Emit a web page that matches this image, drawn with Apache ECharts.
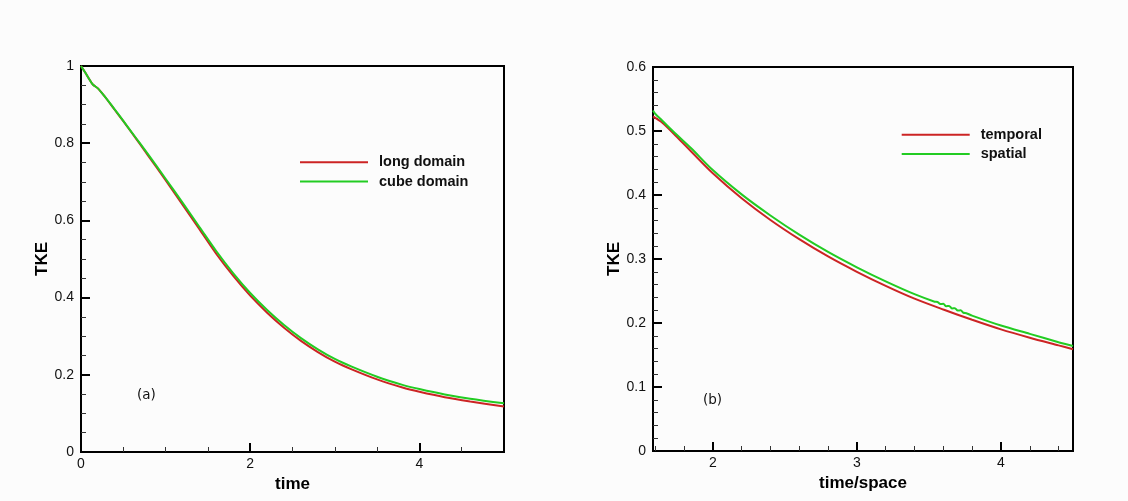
<!DOCTYPE html>
<html>
<head>
<meta charset="utf-8">
<script src="https://cdn.jsdelivr.net/npm/echarts@6/dist/echarts.min.js"></script>
<style>
html,body{margin:0;padding:0;background:#fcfcfc;}
#chart{width:1128px;height:501px;}
</style>
</head>
<body>
<div id="chart"></div>
<script>
// ---- Panel (a) data ----
const timeA = [0, 0.05, 0.1, 0.14, 0.2, 0.28, 0.4, 0.5, 0.6, 0.7, 0.8, 1.0, 1.2, 1.4, 1.6, 1.8, 2.0, 2.2, 2.4, 2.6, 2.8, 3.0, 3.2, 3.5, 3.8, 4.0, 4.3, 4.6, 5.0];
const longDomain = [1.0, 0.983, 0.965, 0.952, 0.942, 0.921, 0.886, 0.857, 0.827, 0.797, 0.766, 0.704, 0.641, 0.577, 0.513, 0.456, 0.405, 0.361, 0.322, 0.288, 0.259, 0.234, 0.214, 0.188, 0.167, 0.156, 0.142, 0.131, 0.118];
const cubeDomain = [1.0, 0.983, 0.965, 0.952, 0.942, 0.921, 0.887, 0.858, 0.828, 0.799, 0.769, 0.708, 0.646, 0.583, 0.520, 0.463, 0.412, 0.368, 0.329, 0.295, 0.266, 0.241, 0.221, 0.195, 0.174, 0.163, 0.149, 0.138, 0.126];

// ---- Panel (b) data ----
const timeSpaceTemporal = [1.585, 1.65, 1.75, 1.85, 2.0, 2.2, 2.4, 2.6, 2.8, 3.0, 3.2, 3.4, 3.6, 3.8, 4.0, 4.2, 4.4, 4.5];
const temporal = [0.523, 0.513, 0.491, 0.468, 0.434, 0.395, 0.361, 0.331, 0.304, 0.280, 0.258, 0.238, 0.221, 0.205, 0.190, 0.177, 0.165, 0.159];
const timeSpaceSpatial = [1.585, 1.6, 1.65, 1.75, 1.85, 2.0, 2.2, 2.4, 2.6, 2.8, 3.0, 3.2, 3.4, 3.54, 3.56, 3.58, 3.60, 3.62, 3.64, 3.66, 3.68, 3.70, 3.72, 3.74, 3.76, 3.8, 4.0, 4.2, 4.4, 4.5];
const spatial = [0.532, 0.527, 0.516, 0.494, 0.473, 0.439, 0.401, 0.368, 0.338, 0.311, 0.287, 0.265, 0.245, 0.2333, 0.2328, 0.2297, 0.2300, 0.2262, 0.2266, 0.2228, 0.2232, 0.2195, 0.2198, 0.2160, 0.2152, 0.2115, 0.196, 0.183, 0.170, 0.164];

// ---- Ticks ----
const xLabelsA = [0, 2, 4];
const xMinorA = [0.5, 1, 1.5, 2.5, 3, 3.5, 4.5];
const yLabelsA = [0, 0.2, 0.4, 0.6, 0.8, 1];
const yMinorA = [0.05, 0.1, 0.15, 0.25, 0.3, 0.35, 0.45, 0.5, 0.55, 0.65, 0.7, 0.75, 0.85, 0.9, 0.95];
const xLabelsB = [2, 3, 4];
const xMinorB = [1.6, 1.8, 2.2, 2.4, 2.6, 2.8, 3.2, 3.4, 3.6, 3.8, 4.2, 4.4];
const yLabelsB = [0, 0.1, 0.2, 0.3, 0.4, 0.5, 0.6];
const yMinorB = [0.02, 0.04, 0.06, 0.08, 0.12, 0.14, 0.16, 0.18, 0.22, 0.24, 0.26, 0.28, 0.32, 0.34, 0.36, 0.38, 0.42, 0.44, 0.46, 0.48, 0.52, 0.54, 0.56, 0.58];

const seriesNamesA = ['long domain', 'cube domain'];
const seriesNamesB = ['temporal', 'spatial'];

const RED = '#cc2424';
const GREEN = '#22cc22';
const FONT = '"Liberation Sans", Arial, Helvetica, sans-serif';

function pairs(xs, ys) { return xs.map((x, i) => [x, ys[i]]); }

const axisLine = { show: true, lineStyle: { color: '#000', width: 2 } };
const labelStyle = { fontFamily: FONT, fontSize: 14, color: '#111' };
const nameStyle = { fontFamily: FONT, fontSize: 17, fontWeight: 'bold', color: '#000' };

function majorX(grid, min, max, labels, name) {
  return {
    type: 'value', gridIndex: grid, min: min, max: max, position: 'bottom',
    axisLine: axisLine,
    axisTick: { show: true, inside: true, length: 9, customValues: labels, lineStyle: { color: '#000', width: 2 } },
    axisLabel: Object.assign({ margin: 5, customValues: labels }, labelStyle),
    splitLine: { show: false },
    name: name, nameLocation: 'middle', nameGap: 16, nameTextStyle: nameStyle
  };
}
function minorX(grid, min, max, ticks) {
  return {
    type: 'value', gridIndex: grid, min: min, max: max, position: 'bottom',
    axisLine: { show: false },
    axisTick: { show: true, inside: true, length: 5, customValues: ticks, lineStyle: { color: '#333', width: 1 } },
    axisLabel: { show: false },
    splitLine: { show: false }
  };
}
function majorY(grid, min, max, labels, name) {
  return {
    type: 'value', gridIndex: grid, min: min, max: max, position: 'left',
    axisLine: axisLine,
    axisTick: { show: true, inside: true, length: 9, customValues: labels, lineStyle: { color: '#000', width: 2 } },
    axisLabel: Object.assign({ margin: 7, customValues: labels }, labelStyle),
    splitLine: { show: false },
    name: name, nameLocation: 'middle', nameGap: 30, nameTextStyle: nameStyle
  };
}
function minorY(grid, min, max, ticks) {
  return {
    type: 'value', gridIndex: grid, min: min, max: max, position: 'left',
    axisLine: { show: false },
    axisTick: { show: true, inside: true, length: 5, customValues: ticks, lineStyle: { color: '#333', width: 1 } },
    axisLabel: { show: false },
    splitLine: { show: false }
  };
}

function legend(left, top, names) {
  return {
    orient: 'vertical', left: left, top: top, padding: 0,
    icon: 'rect', itemWidth: 68, itemHeight: 2, itemGap: 4.3,
    data: names,
    textStyle: { fontFamily: FONT, fontSize: 14.5, fontWeight: 'bold', color: '#111', lineHeight: 14, padding: [0, 0, 0, 6] }
  };
}

function lineSeries(name, xi, data, color) {
  return {
    name: name, type: 'line', xAxisIndex: xi, yAxisIndex: xi,
    data: data, symbol: 'none', smooth: 0.3,
    lineStyle: { color: color, width: 2 }, itemStyle: { color: color },
    animation: false
  };
}

const chart = echarts.init(document.getElementById('chart'), null, { renderer: 'canvas' });
chart.setOption({
  backgroundColor: '#fcfcfc',
  animation: false,
  grid: [
    { left: 81, top: 66, width: 423, height: 386, show: true, borderColor: '#000', borderWidth: 2, containLabel: false },
    { left: 653, top: 67, width: 420, height: 384, show: true, borderColor: '#000', borderWidth: 2, containLabel: false }
  ],
  xAxis: [
    majorX(0, 0, 5, xLabelsA, 'time'),
    minorX(0, 0, 5, xMinorA),
    majorX(1, 1.585, 4.5, xLabelsB, 'time/space'),
    minorX(1, 1.585, 4.5, xMinorB)
  ],
  yAxis: [
    majorY(0, 0, 1, yLabelsA, 'TKE'),
    minorY(0, 0, 1, yMinorA),
    majorY(1, 0, 0.6, yLabelsB, 'TKE'),
    minorY(1, 0, 0.6, yMinorB)
  ],
  legend: [
    legend(300, 154.7, seriesNamesA),
    legend(901.7, 127.3, seriesNamesB)
  ],
  graphic: [
    { type: 'text', left: 137, top: 388, style: { text: '(a)', fontFamily: '"DejaVu Sans", sans-serif', fontSize: 13.5, fill: '#111' } },
    { type: 'text', left: 703, top: 393, style: { text: '(b)', fontFamily: '"DejaVu Sans", sans-serif', fontSize: 13.5, fill: '#111' } }
  ],
  series: [
    lineSeries(seriesNamesA[0], 0, pairs(timeA, longDomain), RED),
    lineSeries(seriesNamesA[1], 0, pairs(timeA, cubeDomain), GREEN),
    lineSeries(seriesNamesB[0], 2, pairs(timeSpaceTemporal, temporal), RED),
    lineSeries(seriesNamesB[1], 2, pairs(timeSpaceSpatial, spatial), GREEN)
  ]
});
</script>
</body>
</html>
